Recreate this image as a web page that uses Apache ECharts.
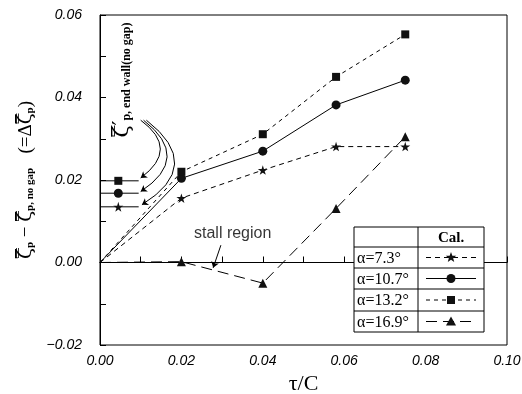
<!DOCTYPE html>
<html>
<head>
<meta charset="utf-8">
<script src="https://cdn.jsdelivr.net/npm/echarts@6/dist/echarts.min.js"></script>
<style>
  html, body { margin: 0; padding: 0; background: #fff; }
  #chart { width: 522px; height: 394px; }
</style>
</head>
<body>
<div id="chart"></div>
<script>
// data
const tauC = [0, 0.02, 0.04, 0.058, 0.075]
const alpha73 = [0, 0.0156, 0.0224, 0.0281, 0.0281]
const alpha107 = [0, 0.0204, 0.027, 0.0382, 0.0442]
const alpha132 = [0, 0.022, 0.0311, 0.045, 0.0553]
const alpha169 = [0, 0.0002, -0.005, 0.0131, 0.0305]
const caseLabels = ['α=7.3°', 'α=10.7°', 'α=13.2°', 'α=16.9°']

// end wall (no gap) values, drawn at the left edge: star, circle, square
const endWallX = [0, 0.0045, 0.0095]
const endWall = [0.0135, 0.0168, 0.0198]

// annotation arrows (data space)
const arrowStart = [[0.0100, 0.0345], [0.0107, 0.0345], [0.0114, 0.0345]]
const arrowEnd = [[0.0100, 0.0205], [0.0100, 0.0172], [0.0103, 0.0140]]
const stallText = [0.0326, 0.0071]
const stallArrow = [[0.0297, 0.0042], [0.0278, -0.0013]]

const STAR = 'path://M50,0 L61,35 L98,35 L68,57 L79,91 L50,70 L21,91 L32,57 L2,35 L39,35 Z'
const symbols = [STAR, 'circle', 'rect', 'triangle']
const symbolSizes = [10, 9, 8, 9]
const dashes = [[5, 4], 'solid', [4, 4], [11, 6]]
const seriesValues = [alpha73, alpha107, alpha132, alpha169]

const chart = echarts.init(document.getElementById('chart'))
const ZETA = 'ζ\u033F'

const series = seriesValues.map((vals, i) => ({
  name: caseLabels[i],
  type: 'line',
  data: tauC.map((x, j) => [x, vals[j]]),
  symbol: symbols[i],
  symbolSize: symbolSizes[i],
  showAllSymbol: true,
  lineStyle: { color: '#000', width: 1, type: dashes[i] },
  itemStyle: { color: '#111' },
  symbolKeepAspect: true,
  animation: false
}))
// no marker at the origin
series.forEach(s => { s.data[0] = { value: s.data[0], symbol: 'none' } })

// end wall reference lines with markers
endWall.forEach((v, i) => {
  series.push({
    type: 'line',
    data: [
      { value: [endWallX[0], v], symbol: 'none' },
      { value: [endWallX[1], v] },
      { value: [endWallX[2], v], symbol: 'none' }
    ],
    symbol: symbols[i],
    symbolSize: symbolSizes[i],
    lineStyle: { color: '#000', width: 1 },
    itemStyle: { color: '#111' },
    animation: false
  })
})

// curved arrows from the end wall label
series.push({
  type: 'lines',
  coordinateSystem: 'cartesian2d',
  symbol: ['none', 'arrow'],
  symbolSize: 6,
  lineStyle: { color: '#000', width: 1, opacity: 1 },
  data: arrowStart.map((s, i) => ({
    coords: [s, arrowEnd[i]],
    lineStyle: { curveness: [0.68, 0.7, 0.72][i] }
  })),
  animation: false
})
// stall region arrow
series.push({
  type: 'lines',
  coordinateSystem: 'cartesian2d',
  symbol: ['none', 'arrow'],
  symbolSize: 6,
  lineStyle: { color: '#000', width: 1, opacity: 1 },
  data: [{ coords: stallArrow }],
  animation: false
})
series.push({
  type: 'scatter',
  data: [stallText],
  symbolSize: 0,
  label: {
    show: true,
    position: 'inside',
    formatter: 'stall region',
    color: '#000',
    fontFamily: 'Liberation Sans',
    fontSize: 16
  },
  animation: false
})

// legend table (pixel layout)
const tbl = { left: 354, mid: 418, right: 484, top: 227, rows: [247, 268, 289, 311, 332] }
const graphic = []
graphic.push({ type: 'rect', shape: { x: tbl.left, y: tbl.top, width: tbl.right - tbl.left, height: tbl.rows[4] - tbl.top }, style: { fill: '#fff', stroke: '#000', lineWidth: 1 }, z: 100 })
tbl.rows.slice(0, 4).forEach(y => {
  graphic.push({ type: 'line', shape: { x1: tbl.left, y1: y, x2: tbl.right, y2: y }, style: { stroke: '#000', lineWidth: 1 }, z: 101 })
})
graphic.push({ type: 'line', shape: { x1: tbl.mid, y1: tbl.top, x2: tbl.mid, y2: tbl.rows[4] }, style: { stroke: '#000', lineWidth: 1 }, z: 101 })
graphic.push({ type: 'text', x: (tbl.mid + tbl.right) / 2, y: (tbl.top + tbl.rows[0]) / 2 + 1, style: { text: 'Cal.', font: 'bold 15px "Liberation Serif"', fill: '#000', align: 'center', verticalAlign: 'middle' }, z: 102 })

function starPoints (cx, cy, r) {
  const pts = []
  for (let k = 0; k < 10; k++) {
    const a = -Math.PI / 2 + k * Math.PI / 5
    const rr = k % 2 ? r * 0.42 : r
    pts.push([cx + rr * Math.cos(a), cy + rr * Math.sin(a)])
  }
  return pts
}
caseLabels.forEach((lab, i) => {
  const top = tbl.rows[i]
  const bot = tbl.rows[i + 1]
  const cy = (top + bot) / 2
  const cx = (tbl.mid + tbl.right) / 2
  graphic.push({ type: 'text', x: tbl.left + 3, y: cy + 1, style: { text: lab, font: '16px "Liberation Serif"', fill: '#000', verticalAlign: 'middle' }, z: 102 })
  const d = dashes[i] === 'solid' ? null : dashes[i]
  graphic.push({ type: 'line', shape: { x1: tbl.mid + 8, y1: cy, x2: tbl.right - 8, y2: cy }, style: { stroke: '#000', lineWidth: 1, lineDash: d }, z: 102 })
  let shape
  if (i === 0) shape = { type: 'polygon', shape: { points: starPoints(cx, cy, 5.5) } }
  else if (i === 1) shape = { type: 'circle', shape: { cx: cx, cy: cy, r: 4.5 } }
  else if (i === 2) shape = { type: 'rect', shape: { x: cx - 4, y: cy - 4, width: 8, height: 8 } }
  else shape = { type: 'polygon', shape: { points: [[cx, cy - 5], [cx + 5, cy + 4], [cx - 5, cy + 4]] } }
  shape.style = { fill: '#111' }
  shape.z = 103
  graphic.push(shape)
})

// end wall label, vertical
graphic.push({
  type: 'text',
  x: 122,
  y: 80,
  rotation: Math.PI / 2,
  style: {
    text: '{z|' + ZETA + '′}{s|p, end wall(no gap)}',
    align: 'center',
    verticalAlign: 'middle',
    rich: {
      z: { font: '22px "DejaVu Serif"', fill: '#000' },
      s: { font: 'bold 12px "Liberation Serif"', fill: '#000', padding: [9, 0, 0, 0] }
    }
  }
})

const tickFont = { fontFamily: 'Liberation Sans', fontStyle: 'italic', fontSize: 14, color: '#000' }

chart.setOption({
  animation: false,
  grid: { left: 100, right: 15, top: 15, bottom: 49, show: true, borderColor: '#000', borderWidth: 1, outerBoundsMode: 'none', containLabel: false },
  xAxis: {
    type: 'value',
    min: 0,
    max: 0.1,
    interval: 0.02,
    name: 'τ/C',
    nameLocation: 'middle',
    nameGap: 27,
    nameTextStyle: { fontFamily: 'Liberation Serif', fontSize: 22, color: '#000' },
    axisLine: { lineStyle: { color: '#000', width: 1 } },
    axisTick: { inside: true, length: 6, lineStyle: { color: '#000' } },
    minorTick: { show: true, splitNumber: 2, length: 6, lineStyle: { color: '#000' } },
    splitLine: { show: false },
    axisLabel: Object.assign({ margin: 9, formatter: v => v.toFixed(2) }, tickFont)
  },
  yAxis: {
    type: 'value',
    min: -0.02,
    max: 0.06,
    interval: 0.02,
    name: '{z|' + ZETA + '}{s|p}{m| − }{z|' + ZETA + '}{s|p, no gap}{m|   (=Δ}{z|' + ZETA + '}{s|p}{m|)}',
    nameLocation: 'middle',
    nameGap: 64,
    nameTextStyle: {
      color: '#000',
      rich: {
        z: { fontFamily: 'DejaVu Serif', fontSize: 20, color: '#000' },
        s: { fontFamily: 'Liberation Serif', fontWeight: 'bold', fontSize: 11, color: '#000', padding: [8, 0, 0, 0] },
        m: { fontFamily: 'Liberation Serif', fontSize: 19, color: '#000' }
      }
    },
    axisLine: { lineStyle: { color: '#000', width: 1 } },
    axisTick: { inside: true, length: 6, lineStyle: { color: '#000' } },
    minorTick: { show: true, splitNumber: 2, length: 6, lineStyle: { color: '#000' } },
    splitLine: { show: false },
    axisLabel: Object.assign({ margin: 18, formatter: v => (v < 0 ? '−' : '') + Math.abs(v).toFixed(2) }, tickFont)
  },
  graphic: graphic,
  series: series
})
</script>
</body>
</html>
